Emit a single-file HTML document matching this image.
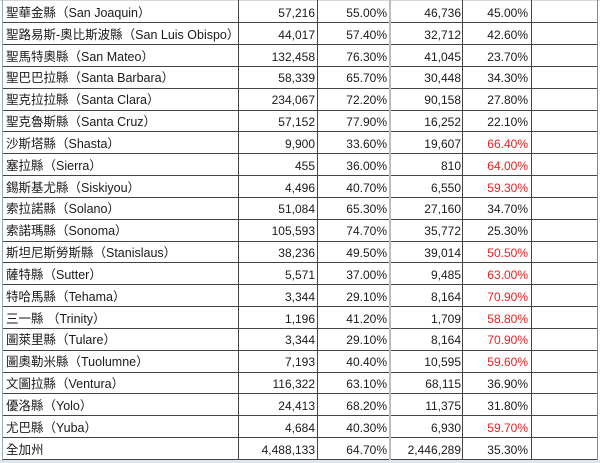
<!DOCTYPE html>
<html><head><meta charset="utf-8"><style>
html,body{margin:0;padding:0;background:#fff;}
#w{position:relative;width:600px;height:463px;overflow:hidden;background:#fff;font-family:"Liberation Sans","Noto Sans CJK TC","Noto Sans CJK SC",sans-serif;font-size:12px;color:#1a1a1a;}
.r{position:absolute;left:0;width:600px;height:21.84px;line-height:24px;}
.r span{position:absolute;top:0;white-space:nowrap;}
.a{left:6px;font-size:12.5px;}
.b{left:238px;width:77px;text-align:right;}
.c{left:318px;width:69px;text-align:right;}
.d{left:391px;width:70px;text-align:right;}
.e{left:464px;width:64px;text-align:right;}
.red{color:#f01e1e;}
svg{position:absolute;left:0;top:0;}
</style></head><body><div id="w">
<svg width="600" height="463" viewBox="0 0 600 463">
<rect x="0" y="460" width="600" height="3" fill="#dfe5ec"/>
<rect x="0" y="0" width="600" height="1" fill="#d8d8d8"/>
<g fill="#444">
<rect x="3" y="22" width="595" height="1"/>
<rect x="3" y="44" width="595" height="1"/>
<rect x="3" y="66" width="595" height="1"/>
<rect x="3" y="88" width="595" height="1"/>
<rect x="3" y="110" width="595" height="1"/>
<rect x="3" y="131" width="595" height="1"/>
<rect x="3" y="153" width="595" height="1"/>
<rect x="3" y="175" width="595" height="1"/>
<rect x="3" y="197" width="595" height="1"/>
<rect x="3" y="219" width="595" height="1"/>
<rect x="3" y="241" width="595" height="1"/>
<rect x="3" y="262" width="595" height="1"/>
<rect x="3" y="284" width="595" height="1"/>
<rect x="3" y="306" width="595" height="1"/>
<rect x="3" y="328" width="595" height="1"/>
<rect x="3" y="350" width="595" height="1"/>
<rect x="3" y="372" width="595" height="1"/>
<rect x="3" y="393" width="595" height="1"/>
<rect x="3" y="415" width="595" height="1"/>
<rect x="3" y="437" width="595" height="1"/>
<rect x="3" y="459" width="595" height="1"/>
<rect x="238" y="0" width="1" height="460"/>
<rect x="317" y="0" width="1" height="460"/>
<rect x="462" y="0" width="1" height="460"/>
<rect x="531" y="0" width="1" height="460"/>
</g>
<rect x="389" y="0" width="2" height="460" fill="#bdbdbd"/>
<rect x="597" y="0" width="1" height="460" fill="#8a8a8a"/>
<rect x="2" y="0" width="1" height="461" fill="#9aa8b8"/>
</svg>
<div class="r" style="top:0.86px"><span class="a">聖華金縣（San Joaquin）</span><span class="b">57,216</span><span class="c">55.00%</span><span class="d">46,736</span><span class="e">45.00%</span></div>
<div class="r" style="top:22.70px"><span class="a">聖路易斯-奧比斯波縣（San Luis Obispo）</span><span class="b">44,017</span><span class="c">57.40%</span><span class="d">32,712</span><span class="e">42.60%</span></div>
<div class="r" style="top:44.54px"><span class="a">聖馬特奧縣（San Mateo）</span><span class="b">132,458</span><span class="c">76.30%</span><span class="d">41,045</span><span class="e">23.70%</span></div>
<div class="r" style="top:66.38px"><span class="a">聖巴巴拉縣（Santa Barbara）</span><span class="b">58,339</span><span class="c">65.70%</span><span class="d">30,448</span><span class="e">34.30%</span></div>
<div class="r" style="top:88.22px"><span class="a">聖克拉拉縣（Santa Clara）</span><span class="b">234,067</span><span class="c">72.20%</span><span class="d">90,158</span><span class="e">27.80%</span></div>
<div class="r" style="top:110.06px"><span class="a">聖克魯斯縣（Santa Cruz）</span><span class="b">57,152</span><span class="c">77.90%</span><span class="d">16,252</span><span class="e">22.10%</span></div>
<div class="r" style="top:131.90px"><span class="a">沙斯塔縣（Shasta）</span><span class="b">9,900</span><span class="c">33.60%</span><span class="d">19,607</span><span class="e red">66.40%</span></div>
<div class="r" style="top:153.74px"><span class="a">塞拉縣（Sierra）</span><span class="b">455</span><span class="c">36.00%</span><span class="d">810</span><span class="e red">64.00%</span></div>
<div class="r" style="top:175.58px"><span class="a">錫斯基尤縣（Siskiyou）</span><span class="b">4,496</span><span class="c">40.70%</span><span class="d">6,550</span><span class="e red">59.30%</span></div>
<div class="r" style="top:197.42px"><span class="a">索拉諾縣（Solano）</span><span class="b">51,084</span><span class="c">65.30%</span><span class="d">27,160</span><span class="e">34.70%</span></div>
<div class="r" style="top:219.26px"><span class="a">索諾瑪縣（Sonoma）</span><span class="b">105,593</span><span class="c">74.70%</span><span class="d">35,772</span><span class="e">25.30%</span></div>
<div class="r" style="top:241.10px"><span class="a">斯坦尼斯勞斯縣（Stanislaus）</span><span class="b">38,236</span><span class="c">49.50%</span><span class="d">39,014</span><span class="e red">50.50%</span></div>
<div class="r" style="top:262.94px"><span class="a">薩特縣（Sutter）</span><span class="b">5,571</span><span class="c">37.00%</span><span class="d">9,485</span><span class="e red">63.00%</span></div>
<div class="r" style="top:284.78px"><span class="a">特哈馬縣（Tehama）</span><span class="b">3,344</span><span class="c">29.10%</span><span class="d">8,164</span><span class="e red">70.90%</span></div>
<div class="r" style="top:306.62px"><span class="a">三一縣 （Trinity）</span><span class="b">1,196</span><span class="c">41.20%</span><span class="d">1,709</span><span class="e red">58.80%</span></div>
<div class="r" style="top:328.46px"><span class="a">圖萊里縣（Tulare）</span><span class="b">3,344</span><span class="c">29.10%</span><span class="d">8,164</span><span class="e red">70.90%</span></div>
<div class="r" style="top:350.30px"><span class="a">圖奧勒米縣（Tuolumne）</span><span class="b">7,193</span><span class="c">40.40%</span><span class="d">10,595</span><span class="e red">59.60%</span></div>
<div class="r" style="top:372.14px"><span class="a">文圖拉縣（Ventura）</span><span class="b">116,322</span><span class="c">63.10%</span><span class="d">68,115</span><span class="e">36.90%</span></div>
<div class="r" style="top:393.98px"><span class="a">優洛縣（Yolo）</span><span class="b">24,413</span><span class="c">68.20%</span><span class="d">11,375</span><span class="e">31.80%</span></div>
<div class="r" style="top:415.82px"><span class="a">尤巴縣（Yuba）</span><span class="b">4,684</span><span class="c">40.30%</span><span class="d">6,930</span><span class="e red">59.70%</span></div>
<div class="r" style="top:437.66px"><span class="a">全加州</span><span class="b">4,488,133</span><span class="c">64.70%</span><span class="d">2,446,289</span><span class="e">35.30%</span></div>
</div></body></html>
